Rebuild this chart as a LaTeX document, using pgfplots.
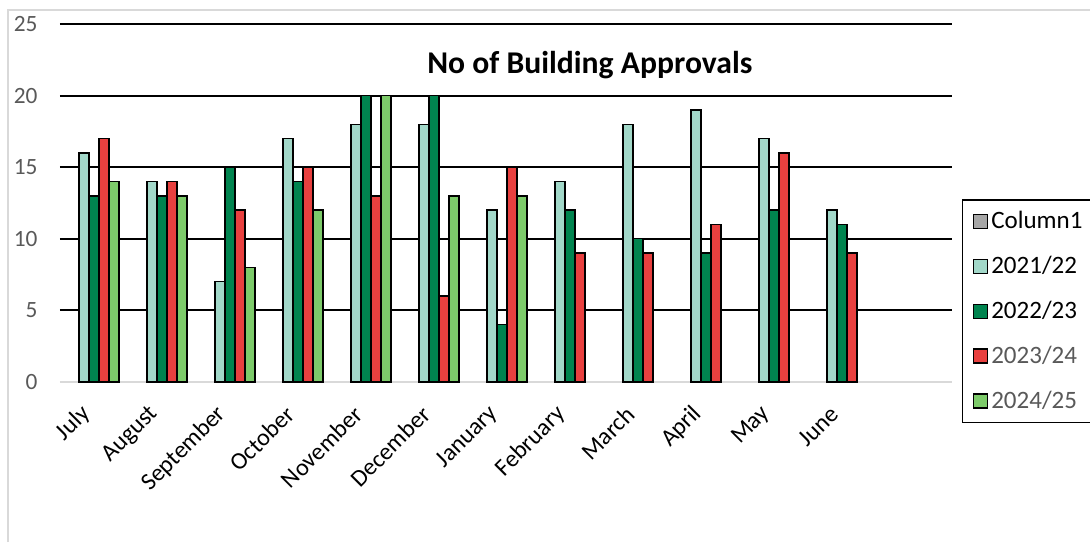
\documentclass[border=0pt]{standalone}
\usepackage{fontspec}
\setmainfont{Carlito}
\usepackage{pgfplots}
\usepackage{pgfplotstable}
\pgfplotsset{compat=1.18}

\definecolor{c21}{HTML}{A2D8C9}
\definecolor{c22}{HTML}{00844F}
\definecolor{c23}{HTML}{E8403F}
\definecolor{c24}{HTML}{7DCB6A}
\definecolor{col1}{HTML}{A6A6A6}
\definecolor{tickgray}{HTML}{595959}
\definecolor{framegray}{HTML}{D9D9D9}

% monthly approvals, one column per financial year
\pgfplotstableread{
idx y2122 y2223 y2324 y2425
0  16 13 17 14
1  14 13 14 13
2  7  15 12 8
3  17 14 15 12
4  18 20 13 20
5  18 20 6  13
6  12 4  15 13
7  14 12 9  nan
8  18 10 9  nan
9  19 9  11 nan
10 17 12 16 nan
11 12 11 9  nan
}\approvals

\pgfplotsset{sq legend/.style={legend image code/.code={%
  \draw[##1, draw=black, line width=0.8pt] (0pt,-4.2pt) rectangle (8.4pt,4.2pt);}}}

\begin{document}
\begin{tikzpicture}
\path[use as bounding box] (0,0) rectangle (654pt,325.2pt);
\clip (0,0) rectangle (654pt,325.2pt);
\draw[framegray, line width=1pt] (4.8pt,0) -- (4.8pt,319.2pt) -- (654pt,319.2pt);
\begin{axis}[
  at={(36pt,96pt)}, anchor=south west,
  scale only axis, width=535.2pt, height=214.8pt,
  ybar, bar width=6pt,
  ymin=0, ymax=25,
  xmin=-0.5, xmax=12.62,
  ytick={5,10,...,25},
  extra y ticks={0}, extra y tick style={grid=none},
  ymajorgrids, grid style={black, line width=1.1pt},
  xtick={0,...,11},
  xticklabels={July,August,September,October,November,December,January,February,March,April,May,June},
  major tick length=0pt,
  axis x line*=bottom, axis y line*=left,
  x axis line style={-, framegray, line width=1.3pt},
  y axis line style={draw=none},
  /pgf/number format/assume math mode=true,
  yticklabel style={font=\fontsize{14}{16}\selectfont, text=tickgray, xshift=-10pt},
  xticklabel style={font=\fontsize{14.5}{17}\selectfont, text=black, inner sep=0pt,
    xshift=-4.5pt, yshift=-17pt, rotate=45, anchor=east},
  every axis title shift=0pt,
  title={No of Building Approvals},
  title style={at={(axis description cs:0.594,0.885)}, anchor=center, font=\bfseries\fontsize{19}{22}\selectfont},
  legend style={at={(axis description cs:1.011,0.511)}, anchor=north west,
    draw=black, line width=1pt, font=\fontsize{15}{18}\selectfont,
    row sep=11pt, inner xsep=6pt, inner ysep=5pt},
  legend cell align=left,
]
\addlegendimage{sq legend, fill=col1}
\addplot[bar shift=-6pt, fill=c21, draw=black, line width=0.8pt, sq legend] table[x=idx, y=y2122] {\approvals};
\addplot[bar shift=0pt, fill=c22, draw=black, line width=0.8pt, sq legend] table[x=idx, y=y2223] {\approvals};
\addplot[bar shift=6pt, fill=c23, draw=black, line width=0.8pt, sq legend] table[x=idx, y=y2324] {\approvals};
\addplot[bar shift=12pt, fill=c24, draw=black, line width=0.8pt, sq legend] table[x=idx, y=y2425] {\approvals};
\legend{Column1\hspace{12pt}, 2021/22, 2022/23, \textcolor{tickgray}{2023/24}, \textcolor{tickgray}{2024/25}}
\end{axis}
\end{tikzpicture}
\end{document}
